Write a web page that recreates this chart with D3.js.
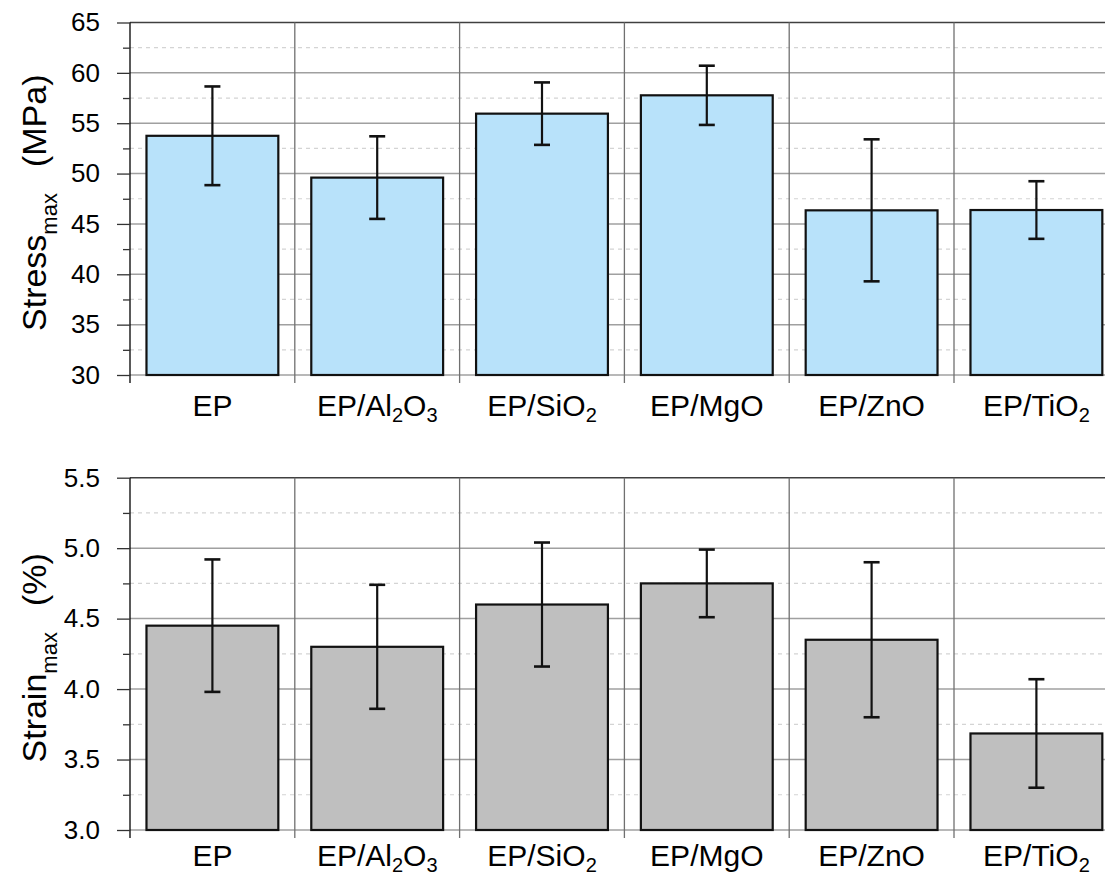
<!DOCTYPE html>
<html>
<head>
<meta charset="utf-8">
<script src="https://cdn.jsdelivr.net/npm/d3@7"></script>
<style>
  html, body { margin: 0; padding: 0; background: #fff; }
  svg { display: block; font-family: "Liberation Sans", Arial, Helvetica, sans-serif; }
</style>
</head>
<body>
<svg id="chart" width="1105" height="875"></svg>
<script>
// ---- data ----
const categories = ["EP", "EP/Al_2O_3", "EP/SiO_2", "EP/MgO", "EP/ZnO", "EP/TiO_2"];
const stressMean = [53.75, 49.6, 55.95, 57.77, 46.35, 46.38];
const stressErr  = [4.9, 4.1, 3.1, 2.94, 7.05, 2.86];
const strainMean = [4.45, 4.30, 4.60, 4.75, 4.35, 3.685];
const strainErr  = [0.47, 0.44, 0.44, 0.24, 0.55, 0.385];
const stressTicks = [30, 35, 40, 45, 50, 55, 60, 65];
const stressMinor = [32.5, 37.5, 42.5, 47.5, 52.5, 57.5, 62.5];
const strainTicks = [3.0, 3.5, 4.0, 4.5, 5.0, 5.5];
const strainMinor = [3.25, 3.75, 4.25, 4.75, 5.25];

const svg = d3.select("#chart");
const x0 = 130, x1 = 1118.8;
const x = d3.scaleBand().domain(categories).range([x0, x1]).paddingInner(0.2).paddingOuter(0.1);

function addLabel(sel, s, big, small, shift) {
  const parts = s.split(/_(\d)/);
  let pending = 0;
  parts.forEach((p, i) => {
    const sub = i % 2 === 1;
    if (p === "") return;
    const dy = sub ? shift : -pending;
    pending = sub ? shift : 0;
    sel.append("tspan").text(p)
      .style("font-size", (sub ? small : big) + "px")
      .attr("dy", dy);
  });
}

function panel(cfg) {
  const g = svg.append("g");
  const y = d3.scaleLinear().domain(cfg.domain).range([cfg.bottom, cfg.top]);

  // minor gridlines (dashed)
  g.selectAll(".minor").data(cfg.minor).join("line")
    .attr("x1", x0).attr("x2", 1105)
    .attr("y1", d => y(d)).attr("y2", d => y(d))
    .attr("stroke", "#d4d4d4").attr("stroke-width", 1.2).attr("stroke-dasharray", "4,4");
  // major gridlines
  g.selectAll(".major").data(cfg.ticks.slice(0, -1)).join("line")
    .attr("x1", x0).attr("x2", 1105)
    .attr("y1", d => y(d)).attr("y2", d => y(d))
    .attr("stroke", "#a0a0a0").attr("stroke-width", 1.5);
  // top border
  g.append("line").attr("x1", x0).attr("x2", 1105)
    .attr("y1", y(cfg.domain[1])).attr("y2", y(cfg.domain[1]))
    .attr("stroke", "#404040").attr("stroke-width", 1.5);

  // category boundaries
  const bounds = d3.range(categories.length + 1).map(i => x0 + i * x.step());
  g.selectAll(".vb").data(bounds).join("line")
    .attr("x1", d => d).attr("x2", d => d)
    .attr("y1", cfg.top).attr("y2", cfg.bottom + 8)
    .attr("stroke", (d, i) => i === 0 ? "#000" : "#707070")
    .attr("stroke-width", 1.3);

  // y axis major ticks with labels
  const ax = g.append("g").attr("transform", `translate(${x0},0)`)
    .call(d3.axisLeft(y).tickValues(cfg.ticks).tickSize(13).tickPadding(17).tickFormat(cfg.fmt));
  ax.select(".domain").remove();
  ax.selectAll(".tick line").attr("stroke", "#333").attr("stroke-width", 1.3);
  ax.selectAll(".tick text").style("font-size", "26px").attr("fill", "#000")
    .style("font-family", "'Liberation Sans', Arial, sans-serif");
  const axm = g.append("g").attr("transform", `translate(${x0},0)`)
    .call(d3.axisLeft(y).tickValues(cfg.minor).tickSize(7).tickFormat(""));
  axm.select(".domain").remove();
  axm.selectAll(".tick line").attr("stroke", "#333").attr("stroke-width", 1.3);

  // bars
  g.selectAll(".bar").data(categories).join("rect")
    .attr("x", d => x(d)).attr("width", x.bandwidth())
    .attr("y", (d, i) => y(cfg.mean[i]))
    .attr("height", (d, i) => y(cfg.domain[0]) - y(cfg.mean[i]))
    .attr("fill", cfg.fill).attr("stroke", "#111").attr("stroke-width", 2.2);

  // error bars
  const eb = g.selectAll(".eb").data(categories).join("g");
  eb.append("line")
    .attr("x1", d => x(d) + x.bandwidth() / 2).attr("x2", d => x(d) + x.bandwidth() / 2)
    .attr("y1", (d, i) => y(cfg.mean[i] + cfg.err[i])).attr("y2", (d, i) => y(cfg.mean[i] - cfg.err[i]))
    .attr("stroke", "#111").attr("stroke-width", 2.2);
  [1, -1].forEach(s => {
    eb.append("line")
      .attr("x1", d => x(d) + x.bandwidth() / 2 - 8).attr("x2", d => x(d) + x.bandwidth() / 2 + 8)
      .attr("y1", (d, i) => y(cfg.mean[i] + s * cfg.err[i])).attr("y2", (d, i) => y(cfg.mean[i] + s * cfg.err[i]))
      .attr("stroke", "#111").attr("stroke-width", 2.6);
  });

  // category labels
  categories.forEach(c => {
    const t = g.append("text")
      .attr("x", x(c) + x.bandwidth() / 2).attr("y", cfg.bottom + cfg.labelGap)
      .attr("text-anchor", "middle").attr("fill", "#000");
    addLabel(t, c, 30, 20, 6);
  });

  // y title
  const cy = (cfg.top + cfg.bottom) / 2 + 4;
  const tt = g.append("text").attr("transform", `translate(46,${cy}) rotate(-90)`)
    .attr("text-anchor", "middle").attr("fill", "#000");
  tt.append("tspan").text(cfg.title[0]).style("font-size", "34px");
  tt.append("tspan").text(cfg.title[1]).style("font-size", "22px").attr("dy", 11);
  tt.append("tspan").text(cfg.title[2]).style("font-size", "34px").attr("dy", -11).attr("dx", 26);
}

panel({ domain: [30, 65], top: 22.5, bottom: 375, ticks: stressTicks, minor: stressMinor,
        mean: stressMean, err: stressErr, fill: "#b8e2fa", fmt: d3.format("d"), labelGap: 41,
        title: ["Stress", "max", "(MPa)"] });
panel({ domain: [3.0, 5.5], top: 477.7, bottom: 830, ticks: strainTicks, minor: strainMinor,
        mean: strainMean, err: strainErr, fill: "#bfbfbf", fmt: d3.format(".1f"), labelGap: 36,
        title: ["Strain", "max", "(%)"] });
</script>
</body>
</html>
